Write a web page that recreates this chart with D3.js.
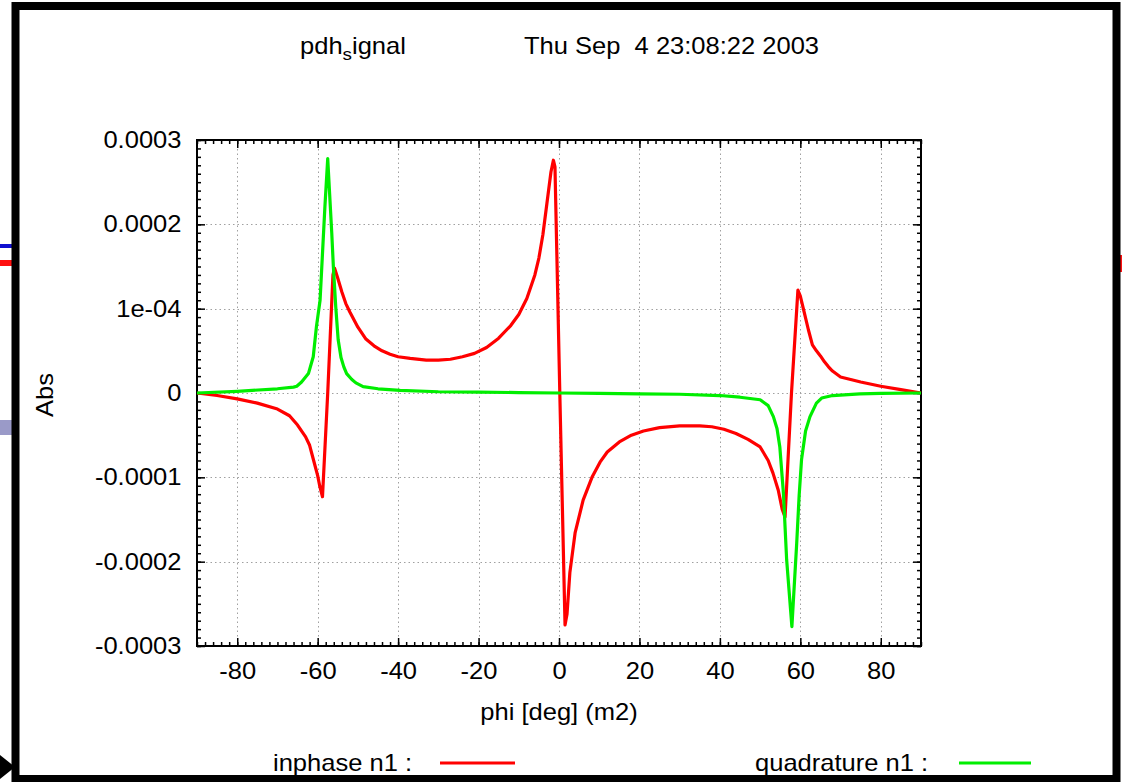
<!DOCTYPE html>
<html>
<head>
<meta charset="utf-8">
<script src="https://cdn.jsdelivr.net/npm/d3@7"></script>
<style>
  body { margin: 0; background: #fff; }
  svg { display: block; }
  text { font-family: "Liberation Sans", Arial, Helvetica, sans-serif; fill: #000; }
</style>
</head>
<body>
<script>
// values are in units of 1e-4 (the y axis labels carry the real numbers)
var inphasePhi = [-90,-85,-80,-75,-70,-67,-65,-63,-62,-61,-60,-59.5,-58.8,-57.5,-56.2,-55.8,-55,-54,-53,-52,
                  -50,-48,-46,-44,-42,-40,-37,-33,-30,-27,-24,-21,-18,-15,-12,-10,-8,-6,-5,-4,
                  -3,-2,-1.4,-1.0,0.2,1.5,2.0,2.7,4,6,8.2,10.2,12,15,18,21,25,30,35,38,
                  41,44,47,50,52,53.2,54.5,55.5,56.2,57.8,59.4,60,61,62,63,64,65,66,67,68,
                  70,75,80,85,90];
var inphase = [0,-0.03,-0.07,-0.12,-0.19,-0.27,-0.38,-0.52,-0.62,-0.80,-0.98,-1.10,-1.23,0,1.40,1.48,1.36,1.20,1.06,0.96,
               0.78,0.64,0.56,0.50,0.46,0.43,0.41,0.39,0.39,0.40,0.43,0.47,0.54,0.65,0.80,0.93,1.12,1.40,1.60,1.88,
               2.25,2.62,2.76,2.68,0,-2.75,-2.62,-2.13,-1.66,-1.27,-1.00,-0.82,-0.70,-0.58,-0.50,-0.45,-0.41,-0.39,-0.39,-0.40,
               -0.43,-0.48,-0.55,-0.64,-0.80,-0.95,-1.15,-1.38,-1.47,0,1.22,1.15,0.95,0.75,0.57,0.50,0.44,0.37,0.31,0.26,
               0.19,0.13,0.08,0.04,0];

var quadPhi = [-90,-80,-70,-66,-65.2,-64,-62.3,-61.1,-60.3,-59.4,-58.2,-57.5,-56.5,-56.1,-55.5,-54.9,-54.2,-53.5,-52.8,-51.5,
               -50.5,-48.7,-45,-39.5,-30,-20,-10,0,10,20,30,40,45,50,52,53.3,54.2,54.9,55.8,56.6,
               57.9,59.1,59.7,60.3,61.3,62.4,64,65.3,68,74.8,80,90];
var quadrature = [0,0.02,0.05,0.07,0.08,0.13,0.23,0.43,0.79,1.10,2.21,2.78,1.90,1.50,1.02,0.63,0.42,0.31,0.23,0.16,
                  0.12,0.075,0.05,0.03,0.015,0.01,0.005,0,-0.005,-0.01,-0.015,-0.03,-0.05,-0.08,-0.15,-0.28,-0.42,-0.64,-1.19,-1.98,
                  -2.77,-1.78,-1.22,-0.79,-0.45,-0.28,-0.12,-0.06,-0.03,-0.01,-0.005,0];

var xTicks = [-80,-60,-40,-20,0,20,40,60,80];
var xTickLabels = ["-80","-60","-40","-20","0","20","40","60","80"];
var yTicks = [3,2,1,0,-1,-2,-3];
var yTickLabels = ["0.0003","0.0002","1e-04","0","-0.0001","-0.0002","-0.0003"];

var seriesNames = ["inphase n1 :", "quadrature n1 :"];

const WIDTH = 1122;
const HEIGHT = 782;
const LEFT = 197, RIGHT = 921, TOP = 140, BOTTOM = 646;
const SX = 1.11; // horizontal stretch of the original text

var translate = function (x, y) {
  return "translate(" + x + "," + y + ")";
};

var xScale = d3.scaleLinear().domain([-90, 90]).range([LEFT, RIGHT]);
var yScale = d3.scaleLinear().domain([-3, 3]).range([BOTTOM, TOP]);

var svg = d3.select("body").append("svg")
  .attr("width", WIDTH)
  .attr("height", HEIGHT);

// screenshot leftovers round the window
svg.append("rect").attr("x", 0).attr("y", 244).attr("width", 13).attr("height", 4).attr("fill", "#1010d0");
svg.append("rect").attr("x", 0).attr("y", 260).attr("width", 13).attr("height", 6).attr("fill", "#ff1010");
svg.append("rect").attr("x", 0).attr("y", 420).attr("width", 13).attr("height", 15).attr("fill", "#9a9ac8");
svg.append("rect").attr("x", 1119).attr("y", 255).attr("width", 3).attr("height", 17).attr("fill", "#ff1010");
svg.append("path").attr("d", "M0,755L15,767L0,779Z").attr("fill", "#000");

svg.append("rect")
  .attr("x", 15.5).attr("y", 6)
  .attr("width", 1101).attr("height", 773)
  .attr("fill", "none").attr("stroke", "#000").attr("stroke-width", 8);

var stretch = function (sel) {
  sel.each(function () {
    var t = d3.select(this);
    var old = t.attr("transform") || "";
    t.attr("transform", old + " scale(" + SX + ",1)");
  });
};

var label = function (x, y, txt, anchor) {
  return svg.append("text")
    .attr("transform", translate(x, y) + " scale(" + SX + ",1)")
    .attr("text-anchor", anchor || "start")
    .attr("font-size", 23)
    .style("white-space", "pre")
    .text(txt);
};

// grid
var grid = svg.append("g").attr("stroke", "#a0a0a0").attr("stroke-width", 1).attr("stroke-dasharray", "1.5,3");
grid.selectAll(".gx").data(xTicks).enter().append("line")
  .attr("x1", function (d) { return Math.round(xScale(d)) + 0.5; })
  .attr("x2", function (d) { return Math.round(xScale(d)) + 0.5; })
  .attr("y1", TOP).attr("y2", BOTTOM);
grid.selectAll(".gy").data(yTicks.filter(function (d) { return Math.abs(d) < 3; })).enter().append("line")
  .attr("y1", function (d) { return Math.round(yScale(d)) + 0.5; })
  .attr("y2", function (d) { return Math.round(yScale(d)) + 0.5; })
  .attr("x1", LEFT).attr("x2", RIGHT);

// minor ticks
var xMinor = d3.range(-90, 90.1, 2);
var yMinor = d3.range(-30, 30.1, 1).map(function (d) { return d / 10; });

var axes = [
  { gen: d3.axisBottom(xScale).tickValues(xMinor).tickSizeInner(-4).tickSizeOuter(0).tickFormat(""), pos: translate(0, BOTTOM) },
  { gen: d3.axisTop(xScale).tickValues(xMinor).tickSizeInner(-4).tickSizeOuter(0).tickFormat(""), pos: translate(0, TOP) },
  { gen: d3.axisLeft(yScale).tickValues(yMinor).tickSizeInner(-4).tickSizeOuter(0).tickFormat(""), pos: translate(LEFT, 0) },
  { gen: d3.axisRight(yScale).tickValues(yMinor).tickSizeInner(-4).tickSizeOuter(0).tickFormat(""), pos: translate(RIGHT, 0) },
  { gen: d3.axisTop(xScale).tickValues(xTicks).tickSizeInner(-8).tickSizeOuter(0).tickFormat(""), pos: translate(0, TOP) },
  { gen: d3.axisRight(yScale).tickValues(yTicks).tickSizeInner(-8).tickSizeOuter(0).tickFormat(""), pos: translate(RIGHT, 0) }
];
axes.forEach(function (a) {
  var g = svg.append("g").attr("transform", a.pos).call(a.gen);
  g.select(".domain").remove();
  g.selectAll("line").attr("stroke", "#000").attr("stroke-width", 1.5);
});

var xAxis = svg.append("g").attr("transform", translate(0, BOTTOM))
  .call(d3.axisBottom(xScale).tickValues(xTicks).tickSizeInner(-8).tickSizeOuter(0).tickPadding(17)
    .tickFormat(function (d, i) { return xTickLabels[i]; }));
var yAxis = svg.append("g").attr("transform", translate(LEFT, 0))
  .call(d3.axisLeft(yScale).tickValues(yTicks).tickSizeInner(-8).tickSizeOuter(0).tickPadding(14)
    .tickFormat(function (d, i) { return yTickLabels[i]; }));

[xAxis, yAxis].forEach(function (g) {
  g.select(".domain").remove();
  g.selectAll("line").attr("stroke", "#000").attr("stroke-width", 1.5);
  g.selectAll("text").attr("font-size", 23).attr("font-family", null).call(stretch);
});

svg.append("rect")
  .attr("x", LEFT).attr("y", TOP)
  .attr("width", RIGHT - LEFT).attr("height", BOTTOM - TOP)
  .attr("fill", "none").attr("stroke", "#000").attr("stroke-width", 2);

// curves
var line = d3.line()
  .x(function (d) { return xScale(d[0]); })
  .y(function (d) { return yScale(d[1]); });

var curves = [
  { data: d3.zip(inphasePhi, inphase), color: "#ff0000" },
  { data: d3.zip(quadPhi, quadrature), color: "#00ee00" }
];
// green is drawn after red, like the original
curves.forEach(function (c) {
  svg.append("path")
    .attr("d", line(c.data))
    .attr("fill", "none")
    .attr("stroke", c.color)
    .attr("stroke-width", 3.2)
    .attr("stroke-linejoin", "round");
});

// title
var title = svg.append("text")
  .attr("transform", translate(300, 54) + " scale(" + SX + ",1)")
  .attr("font-size", 23);
title.append("tspan").text("pdh");
title.append("tspan").attr("font-size", 17).attr("dy", 6).text("s");
title.append("tspan").attr("dy", -6).text("ignal");
label(524, 54, "Thu Sep  4 23:08:22 2003");

// axis titles
svg.append("text")
  .attr("transform", translate(53, 395) + " rotate(-90) scale(" + SX + ",1)")
  .attr("text-anchor", "middle")
  .attr("font-size", 23)
  .text("Abs");
label(559, 720, "phi [deg] (m2)", "middle");

// legend
label(273, 771, seriesNames[0]);
label(755, 771, seriesNames[1]);
svg.append("line").attr("x1", 440).attr("x2", 515).attr("y1", 763).attr("y2", 763)
  .attr("stroke", curves[0].color).attr("stroke-width", 3.2);
svg.append("line").attr("x1", 959).attr("x2", 1031).attr("y1", 763).attr("y2", 763)
  .attr("stroke", curves[1].color).attr("stroke-width", 3.2);
</script>
</body>
</html>
